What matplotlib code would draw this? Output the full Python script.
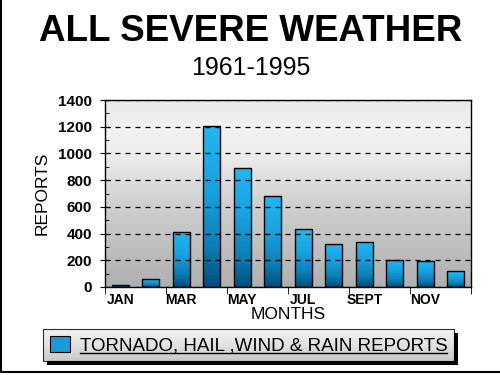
import numpy as np
import matplotlib
matplotlib.use("Agg")
import matplotlib.pyplot as plt
from matplotlib.colors import LinearSegmentedColormap
from matplotlib.patches import Rectangle
from matplotlib.lines import Line2D

plt.rcParams['font.family'] = ['Liberation Sans', 'DejaVu Sans']

# data
months = ["JAN", "FEB", "MAR", "APR", "MAY", "JUN",
          "JUL", "AUG", "SEPT", "OCT", "NOV", "DEC"]
reports = [18, 60, 410, 1205, 888, 680, 432, 322, 338, 203, 196, 118]
shown_labels = ["JAN", "MAR", "MAY", "JUL", "SEPT", "NOV"]
series_name = "TORNADO, HAIL ,WIND & RAIN REPORTS"

fig = plt.figure(figsize=(5, 3.75), dpi=100)
ax = fig.add_axes([0.21, 0.2347, 0.732, 0.4986])

x = np.arange(len(months))
bars = ax.bar(x, reports, width=0.56, facecolor='none', edgecolor='black',
              linewidth=1.0, zorder=3)

# plot area background gradient
bg_cmap = LinearSegmentedColormap.from_list(
    "bg", [(0, "#b0b0b0"), (0.45, "#d0d0d0"), (0.7, "#ececec"),
           (0.85, "#f2f2f2"), (1.0, "#e9e9e9")])
grad = np.linspace(0, 1, 256).reshape(-1, 1)
ax.imshow(grad, extent=[0, 1, 0, 1], transform=ax.transAxes, origin='lower',
          aspect='auto', cmap=bg_cmap, zorder=0)

# blue gradient inside each bar
bar_cmap = LinearSegmentedColormap.from_list(
    "bar", [(0, "#004d78"), (0.25, "#0b7fb6"), (0.6, "#17a2e0"), (1.0, "#22b6f2")])
for b in bars:
    x0, y0 = b.get_xy()
    im = ax.imshow(grad, extent=[x0, x0 + b.get_width(), 0, b.get_height()],
                   origin='lower', aspect='auto', cmap=bar_cmap, zorder=2)
    im.set_clip_path(b)

ax.set_xlim(-0.5, 11.5)
ax.set_ylim(0, 1400)
ax.set_aspect('auto')

# grid + ticks
ax.set_yticks(np.arange(0, 1401, 200))
ax.set_yticks(np.arange(100, 1400, 200), minor=True)
ax.yaxis.grid(True, which='major', linestyle=(0, (4, 4)), color='black',
              linewidth=0.9)
ax.set_axisbelow(False)
for gl in ax.yaxis.get_gridlines():
    gl.set_zorder(1)
ax.tick_params(axis='y', which='major', direction='inout', length=7,
               labelsize=11, pad=6)
ax.tick_params(axis='y', which='minor', direction='in', length=3)
for lab in ax.get_yticklabels():
    lab.set_fontweight('bold')

ax.set_xticks(x[::2])
ax.set_xticklabels(shown_labels, fontsize=10, fontweight='bold')
ax.set_xticks(np.arange(-0.5, 12, 2), minor=True)
ax.tick_params(axis='x', which='major', length=0, pad=4)
ax.tick_params(axis='x', which='minor', direction='out', length=5)

for s in ax.spines.values():
    s.set_linewidth(1.0)
    s.set_zorder(4)

ax.set_ylabel("REPORTS", fontsize=12.5, labelpad=6)
ax.set_xlabel("MONTHS", fontsize=12.5, labelpad=0)

fig.text(0.502, 0.89, "ALL SEVERE WEATHER", ha='center', va='baseline',
         fontsize=26.5, fontweight='bold')
fig.text(0.502, 0.8, "1961-1995", ha='center', va='baseline', fontsize=18)

# legend
handle = Rectangle((0, 0), 1, 1, facecolor='#1a9ad8', edgecolor='black',
                   linewidth=0.8)
leg = fig.legend([handle], [series_name], loc='center',
                 bbox_to_anchor=(0.497, 0.08), fontsize=13.5, frameon=True,
                 fancybox=False, facecolor='none', edgecolor='black',
                 handlelength=1.1, handleheight=1.0, handletextpad=0.5,
                 borderpad=0.35, borderaxespad=0)
leg.get_frame().set_linewidth(0.8)

fig.canvas.draw()
W, H = fig.get_size_inches() * fig.dpi
bb = leg.get_window_extent()
lx, ly, lw, lh = bb.x0 / W, bb.y0 / H, bb.width / W, bb.height / H
fig.patches.append(Rectangle((lx + 4 / W, ly - 4 / H), lw, lh, facecolor='black',
                             edgecolor='none', transform=fig.transFigure,
                             zorder=1))
lax = fig.add_axes([lx, ly, lw, lh], zorder=2)
leg_cmap = LinearSegmentedColormap.from_list(
    "leg", [(0, "#c8c8c8"), (0.5, "#e2e2e2"), (1.0, "#f2f2f2")])
lax.imshow(grad, extent=[0, 1, 0, 1], origin='lower', aspect='auto',
           cmap=leg_cmap)
lax.set_axis_off()
leg.set_zorder(5)

# underline the legend text
tb = leg.get_texts()[0].get_window_extent()
fig.lines.append(Line2D([tb.x0 / W, tb.x1 / W], [(tb.y0 + 1) / H] * 2,
                        color='black', linewidth=1.0,
                        transform=fig.transFigure, zorder=6))

# figure frame on left and bottom
fig.lines.append(Line2D([0.002, 0.002, 1.0], [1.0, 0.008, 0.008],
                        color='black', linewidth=1.5,
                        transform=fig.transFigure, zorder=6))

fig.savefig("out.png", dpi=100)
